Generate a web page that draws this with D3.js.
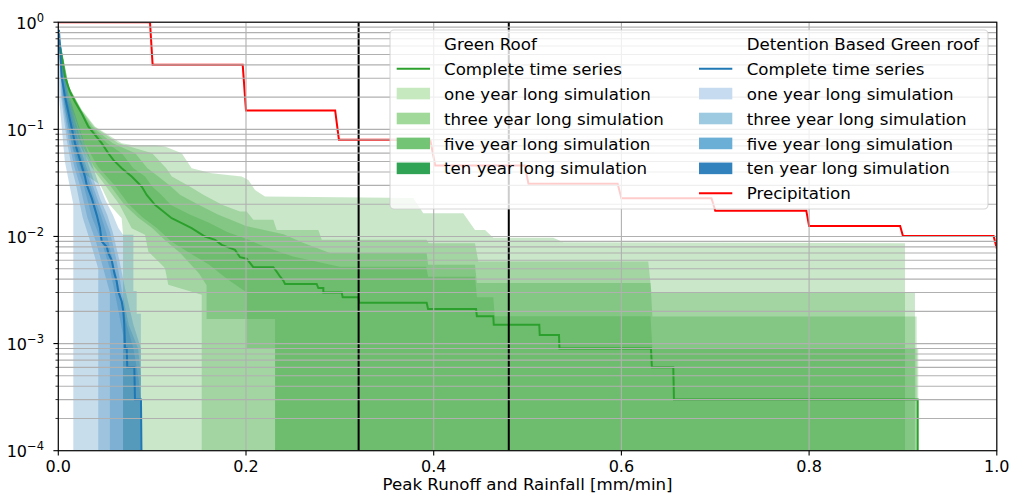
<!DOCTYPE html>
<html><head><meta charset="utf-8">
<script src="https://cdn.jsdelivr.net/npm/d3@7"></script>
<style>body{margin:0;background:#fff}svg{display:block}text{font-family:"DejaVu Sans",sans-serif;fill:#000}</style>
</head><body><svg id="c" width="1011" height="498"></svg>
<script>
// ---------- data ----------
const xTicks = [0, 0.2, 0.4, 0.6, 0.8, 1.0];
const xTickLabels = ["0.0", "0.2", "0.4", "0.6", "0.8", "1.0"];
const yMajor = [1, 0.1, 0.01, 0.001, 0.0001];
const yExponents = ["0", "\u22121", "\u22122", "\u22123", "\u22124"];
const markerLines = [0.32, 0.48];

const precipitation = [[0,1],[0.0977,1],[0.1005,0.4],[0.1965,0.4],[0.2,0.15],[0.295,0.15],[0.299,0.08],[0.3963,0.08],[0.4016,0.046],[0.497,0.046],[0.501,0.031],[0.596,0.031],[0.6,0.0227],[0.696,0.0227],[0.7,0.0174],[0.797,0.0174],[0.8,0.0125],[0.897,0.0125],[0.9,0.0101],[0.9966,0.0101],[1.0,0.0077]];

const greenSeries = [[0.0015,0.62],[0.0071,0.31],[0.0124,0.225],[0.0178,0.181],[0.0249,0.141],[0.032,0.106],[0.0391,0.0887],[0.0462,0.0742],[0.0533,0.0598],[0.0586,0.0518],[0.0676,0.0434],[0.0782,0.0362],[0.0889,0.0292],[0.0942,0.0244],[0.103,0.0197],[0.1208,0.0148],[0.1315,0.0133],[0.1421,0.01195],[0.1563,0.00998],[0.167,0.0093],[0.1741,0.00835],[0.1883,0.0075],[0.1936,0.0064],[0.2007,0.0062],[0.2078,0.00517],[0.2291,0.00517],[0.2327,0.0047],[0.2362,0.00423],[0.2398,0.00388],[0.2416,0.0036],[0.2753,0.0036],[0.2771,0.0033],[0.2824,0.0033],[0.2824,0.003],[0.302,0.003],[0.303,0.0027],[0.3197,0.0027],[0.3207,0.0024],[0.3925,0.0024],[0.394,0.0021],[0.4451,0.0021],[0.446,0.0018],[0.4635,0.0018],[0.464,0.0015],[0.5125,0.0015],[0.513,0.0012],[0.5335,0.0012],[0.534,0.0009],[0.6315,0.0009],[0.6325,0.0006],[0.6553,0.0006],[0.656,0.0003],[0.9157,0.0003],[0.9157,0.00005]];

const blueSeries = [[0.0007,0.85],[0.0036,0.31],[0.0071,0.202],[0.0125,0.122],[0.0178,0.0742],[0.0231,0.0518],[0.0284,0.0362],[0.0303,0.0303],[0.0356,0.0228],[0.0409,0.0159],[0.0444,0.012],[0.0462,0.009],[0.0516,0.008],[0.0533,0.007],[0.0569,0.006],[0.0597,0.00455],[0.0622,0.0038],[0.0639,0.00306],[0.0676,0.00247],[0.0693,0.002],[0.0703,0.0015],[0.0711,0.0009],[0.0729,0.0009],[0.0735,0.0006],[0.081,0.0006],[0.0817,0.0003],[0.0881,0.0003],[0.0889,0.00005]];

// green envelopes: right (max) and left (min) edges, one per simulation length
const greenOneRight = [[0.0005,0.75],[0.0107,0.25],[0.0249,0.153],[0.0391,0.106],[0.0533,0.0887],[0.0676,0.0742],[0.0782,0.0715],[0.103,0.0715],[0.1137,0.069],[0.1315,0.0598],[0.1421,0.0434],[0.1635,0.039],[0.1954,0.0362],[0.2025,0.0337],[0.2096,0.0272],[0.2202,0.0236],[0.3783,0.0228],[0.3889,0.0165],[0.4315,0.0165],[0.444,0.0115],[0.4547,0.0115],[0.4635,0.0097],[0.5274,0.0097],[0.5381,0.00885],[0.9022,0.00866],[0.9022,0.00005]];
const greenOneLeft = [[0.0005,0.75],[0.007,0.16],[0.015,0.07],[0.025,0.04],[0.045,0.03],[0.055,0.0197],[0.0675,0.0148],[0.069,0.0104],[0.069,0.00005]];
const greenThreeRight = [[0.0005,0.75],[0.0115,0.25],[0.025,0.15],[0.038,0.106],[0.051,0.0887],[0.064,0.0742],[0.1,0.0598],[0.115,0.0434],[0.121,0.0362],[0.14,0.0292],[0.155,0.0244],[0.175,0.0197],[0.1936,0.0171],[0.2007,0.0171],[0.2078,0.0143],[0.2291,0.0143],[0.2327,0.0115],[0.2771,0.0115],[0.2807,0.0093],[0.3925,0.0093],[0.3945,0.00866],[0.444,0.00866],[0.4475,0.00583],[0.6286,0.00583],[0.632,0.003],[0.9128,0.003],[0.9128,0.00005]];
const greenThreeLeft = [[0.0005,0.75],[0.01,0.16],[0.02,0.08],[0.035,0.045],[0.05,0.03],[0.065,0.02],[0.0782,0.01195],[0.0924,0.01035],[0.0959,0.00723],[0.1102,0.00543],[0.1137,0.00506],[0.1172,0.00354],[0.1528,0.00285],[0.1528,0.00005]];
const greenFiveRight = [[0.0005,0.75],[0.0112,0.25],[0.0245,0.15],[0.036,0.106],[0.047,0.0887],[0.058,0.0742],[0.082,0.0598],[0.095,0.0434],[0.1066,0.0362],[0.12,0.0292],[0.13,0.0244],[0.15,0.0197],[0.17,0.016],[0.2,0.0125],[0.24,0.0105],[0.26,0.0088],[0.2894,0.007],[0.3925,0.007],[0.394,0.00543],[0.444,0.00543],[0.446,0.00367],[0.631,0.00367],[0.633,0.00179],[0.9146,0.00179],[0.9146,0.00005]];
const greenFiveLeft = [[0.0005,0.75],[0.012,0.16],[0.022,0.08],[0.038,0.045],[0.055,0.03],[0.07,0.02],[0.085,0.015],[0.1,0.012],[0.115,0.009],[0.13,0.007],[0.15,0.0045],[0.158,0.0035],[0.158,0.0017],[0.2007,0.0017],[0.2007,0.0009],[0.231,0.0009],[0.231,0.00005]];
const greenTenRight = [[0.0005,0.75],[0.011,0.25],[0.024,0.15],[0.034,0.106],[0.043,0.0887],[0.052,0.0742],[0.0676,0.0598],[0.08,0.0434],[0.0924,0.0362],[0.1,0.0292],[0.11,0.0244],[0.12,0.0197],[0.14,0.016],[0.16,0.0135],[0.18,0.011],[0.2,0.0095],[0.22,0.008],[0.25,0.0065],[0.3,0.0052],[0.392,0.0052],[0.394,0.0042],[0.444,0.0042],[0.446,0.0027],[0.4635,0.0027],[0.465,0.0018],[0.631,0.0018],[0.633,0.0009],[0.9163,0.0009],[0.9163,0.00005]];
const greenTenLeft = [[0.0005,0.75],[0.014,0.16],[0.026,0.08],[0.042,0.045],[0.06,0.03],[0.075,0.02],[0.09,0.015],[0.105,0.012],[0.12,0.009],[0.14,0.007],[0.16,0.0055],[0.18,0.004],[0.2007,0.003],[0.2007,0.0017],[0.231,0.0017],[0.231,0.00005]];

// blue envelopes
const blueOneRight = [[0,0.9],[0.012,0.2],[0.02,0.12],[0.028,0.074],[0.035,0.05],[0.042,0.033],[0.05,0.022],[0.058,0.016],[0.064,0.012],[0.069,0.0104],[0.08,0.0104],[0.08,0.0031],[0.0835,0.0031],[0.0835,0.0019],[0.088,0.0019],[0.088,0.00005]];
const blueOneLeft = [[0,0.9],[0.001,0.19],[0.007,0.05],[0.013,0.027],[0.016,0.02],[0.016,0.00005]];
const blueThreeRight = [[0,0.9],[0.011,0.2],[0.018,0.12],[0.025,0.074],[0.031,0.05],[0.038,0.033],[0.045,0.022],[0.052,0.016],[0.058,0.011],[0.065,0.006],[0.072,0.003],[0.08,0.0015],[0.088,0.0009],[0.088,0.00005]];
const blueThreeLeft = [[0,0.9],[0.003,0.2],[0.009,0.08],[0.014,0.045],[0.019,0.03],[0.026,0.015],[0.034,0.009],[0.0426,0.005],[0.0426,0.00005]];
const blueFiveRight = [[0,0.9],[0.010,0.2],[0.016,0.12],[0.022,0.074],[0.028,0.05],[0.034,0.035],[0.042,0.022],[0.048,0.016],[0.055,0.011],[0.062,0.006],[0.068,0.003],[0.075,0.0015],[0.085,0.0009],[0.088,0.0005],[0.088,0.00005]];
const blueFiveLeft = [[0,0.9],[0.004,0.2],[0.011,0.08],[0.017,0.045],[0.023,0.03],[0.031,0.015],[0.04,0.009],[0.048,0.005],[0.055,0.003],[0.055,0.00005]];
const blueTenRight = [[0,0.9],[0.009,0.2],[0.015,0.12],[0.021,0.074],[0.026,0.05],[0.032,0.035],[0.039,0.022],[0.045,0.016],[0.051,0.011],[0.058,0.006],[0.066,0.003],[0.073,0.0015],[0.08,0.0009],[0.085,0.0005],[0.088,0.0003],[0.088,0.00005]];
const blueTenLeft = [[0,0.9],[0.005,0.2],[0.013,0.08],[0.02,0.045],[0.027,0.03],[0.036,0.015],[0.046,0.009],[0.055,0.005],[0.062,0.0025],[0.069,0.0012],[0.069,0.00005]];

const legendGreenLabels = ["Green Roof", "Complete time series", "one year long simulation", "three year long simulation", "five year long simulation", "ten year long simulation"];
const legendBlueLabels = ["Detention Based Green roof", "Complete time series", "one year long simulation", "three year long simulation", "five year long simulation", "ten year long simulation", "Precipitation"];
const greenShades = ["#c7e9c0", "#a1d99b", "#74c476", "#31a354"];
const blueShades = ["#c6dbef", "#9ecae1", "#6baed6", "#3182bd"];

// ---------- drawing ----------
const svg = d3.select("#c");
const L = 58.3, R = 996.8, T = 22.2, B = 450.7;
const x = d3.scaleLinear().domain([0, 1]).range([L, R]);
const y = d3.scaleLog().domain([1e-4, 1]).range([B, T]);

svg.append("defs").append("clipPath").attr("id", "plot")
  .append("rect").attr("x", L).attr("y", T).attr("width", R - L).attr("height", B - T);

const line = d3.line().x(d => x(d[0])).y(d => y(d[1]));
const plot = svg.append("g").attr("clip-path", "url(#plot)");

function band(right, left, color) {
  const pts = right.concat(left.slice().reverse());
  plot.append("path").attr("d", line(pts) + "Z")
    .attr("fill", color).attr("fill-opacity", 0.25).attr("stroke", "none");
}
[[greenOneRight, greenOneLeft], [greenThreeRight, greenThreeLeft], [greenFiveRight, greenFiveLeft], [greenTenRight, greenTenLeft]]
  .forEach(b => band(b[0], b[1], "#2ca02c"));
[[blueOneRight, blueOneLeft], [blueThreeRight, blueThreeLeft], [blueFiveRight, blueFiveLeft], [blueTenRight, blueTenLeft]]
  .forEach(b => band(b[0], b[1], "#1f77b4"));

// grid
const grid = svg.append("g").attr("stroke", "#b0b0b0").attr("stroke-width", 1.1);
xTicks.forEach(t => grid.append("line").attr("x1", x(t)).attr("x2", x(t)).attr("y1", T).attr("y2", B));
const yAll = [];
for (let e = -4; e < 0; e++) for (let m = 1; m <= 9; m++) yAll.push(m * Math.pow(10, e));
yAll.push(1);
yAll.forEach(v => grid.append("line").attr("x1", L).attr("x2", R).attr("y1", y(v)).attr("y2", y(v)));

// lines
plot.append("path").attr("d", line(greenSeries)).attr("fill", "none").attr("stroke", "#2ca02c").attr("stroke-width", 2);
plot.append("path").attr("d", line(blueSeries)).attr("fill", "none").attr("stroke", "#1f77b4").attr("stroke-width", 2);
markerLines.forEach(v => plot.append("line").attr("x1", x(v)).attr("x2", x(v)).attr("y1", T).attr("y2", B)
  .attr("stroke", "#000").attr("stroke-width", 2));
plot.append("path").attr("d", line(precipitation)).attr("fill", "none").attr("stroke", "#ff0000").attr("stroke-width", 2);

// spines
svg.append("rect").attr("x", L).attr("y", T).attr("width", R - L).attr("height", B - T)
  .attr("fill", "none").attr("stroke", "#000").attr("stroke-width", 1.1);

// x ticks
const ax = svg.append("g");
xTicks.forEach((t, i) => {
  ax.append("line").attr("x1", x(t)).attr("x2", x(t)).attr("y1", B).attr("y2", B + 4.9).attr("stroke", "#000").attr("stroke-width", 1.1);
  ax.append("text").attr("x", x(t)).attr("y", 471.5).attr("text-anchor", "middle").attr("font-size", 16).text(xTickLabels[i]);
});
ax.append("text").attr("x", (L + R) / 2).attr("y", 490).attr("text-anchor", "middle").attr("font-size", 16.67)
  .text("Peak Runoff and Rainfall [mm/min]");

// y ticks
yAll.forEach(v => {
  const major = yMajor.includes(v) || Math.abs(Math.log10(v) - Math.round(Math.log10(v))) < 1e-9;
  ax.append("line").attr("x1", L - (major ? 4.9 : 2.8)).attr("x2", L).attr("y1", y(v)).attr("y2", y(v))
    .attr("stroke", "#000").attr("stroke-width", major ? 1.1 : 0.8);
});
yMajor.forEach((v, i) => {
  const t = ax.append("text").attr("x", 44).attr("y", y(v) + 6.3).attr("text-anchor", "end").attr("font-size", 16);
  t.append("tspan").text("10");
  t.append("tspan").attr("dy", -7).attr("font-size", 11.5).text(yExponents[i]);
});

// legend
const lg = svg.append("g");
lg.append("rect").attr("x", 390).attr("y", 30).attr("width", 598).attr("height", 179).attr("rx", 4)
  .attr("fill", "#fff").attr("fill-opacity", 0.8).attr("stroke", "#cccccc").attr("stroke-opacity", 0.8).attr("stroke-width", 1.1);
const rowY = i => 43.7 + i * 24.93;
function legendColumn(hx, tx, labels, lineColor, shades, extra) {
  labels.forEach((lab, i) => {
    const cy = rowY(i);
    if (i === 1) lg.append("line").attr("x1", hx).attr("x2", hx + 33.3).attr("y1", cy).attr("y2", cy).attr("stroke", lineColor).attr("stroke-width", 2);
    if (i >= 2 && i <= 5) lg.append("rect").attr("x", hx).attr("y", cy - 5.8).attr("width", 33.3).attr("height", 11.6).attr("fill", shades[i - 2]);
    if (i === 6) lg.append("line").attr("x1", hx).attr("x2", hx + 33.3).attr("y1", cy).attr("y2", cy).attr("stroke", "#ff0000").attr("stroke-width", 2);
    lg.append("text").attr("x", tx).attr("y", cy + 6.1).attr("font-size", 16.67).text(lab);
  });
}
legendColumn(396.7, 444, legendGreenLabels, "#2ca02c", greenShades);
legendColumn(699, 746.7, legendBlueLabels, "#1f77b4", blueShades);
</script></body></html>
